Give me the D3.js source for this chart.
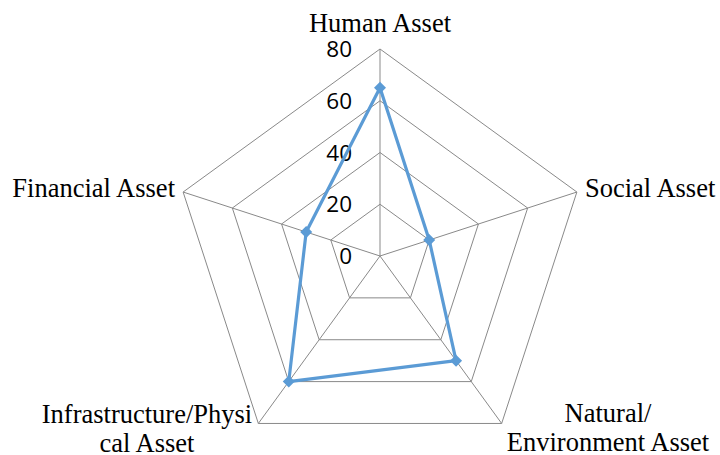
<!DOCTYPE html>
<html><head><meta charset="utf-8">
<script src="https://cdnjs.cloudflare.com/ajax/libs/d3/7.8.5/d3.min.js"></script>
<style>html,body{margin:0;padding:0;background:#fff;}</style>
</head><body>
<svg id="chart" width="720" height="455"></svg>
<script>
const categories = ["Human Asset", "Social Asset", "Natural/\nEnvironment Asset", "Infrastructure/Physi\ncal Asset", "Financial Asset"];
const values = [65, 20, 50, 60, 30];
const tickValues = [0, 20, 40, 60, 80];

const svg = d3.select("#chart");
const cx = 380, cy = 256, R = 207;
const r = d3.scaleLinear().domain([0, 80]).range([0, R]);
const n = categories.length;
const ang = i => i * 2 * Math.PI / n;
const pt = (i, v) => [cx + r(v) * Math.sin(ang(i)), cy - r(v) * Math.cos(ang(i))];

const g = svg.append("g");
// grid polygons
tickValues.slice(1).forEach(t => {
  g.append("polygon")
    .attr("points", d3.range(n).map(i => pt(i, t).join(",")).join(" "))
    .attr("fill", "none").attr("stroke", "#898989").attr("stroke-width", 1);
});
// spokes
d3.range(n).forEach(i => {
  const p = pt(i, 80);
  g.append("line").attr("x1", cx).attr("y1", cy).attr("x2", p[0]).attr("y2", p[1])
    .attr("stroke", "#898989").attr("stroke-width", 1);
});
// tick labels
tickValues.forEach(t => {
  g.append("text").attr("x", cx - 28).attr("y", cy - r(t)).attr("dy", "0.36em")
    .attr("text-anchor", "end").attr("font-family", "'Open Sans', 'Liberation Sans', sans-serif")
    .attr("font-size", 22.5).attr("fill", "#000").text(t);
});
// data line
const line = d3.line().curve(d3.curveLinearClosed);
g.append("path").attr("d", line(values.map((v, i) => pt(i, v))))
  .attr("fill", "none").attr("stroke", "#5B9BD5").attr("stroke-width", 3.2).attr("stroke-linejoin", "round");
values.forEach((v, i) => {
  const p = pt(i, v);
  g.append("path").attr("d", d3.symbol(d3.symbolSquare, 72)())
    .attr("transform", `translate(${p[0]},${p[1]}) rotate(45)`)
    .attr("fill", "#5B9BD5");
});
// category labels
const labelPos = [
  {x: 380, y: 32, anchor: "middle"},
  {x: 585, y: 197, anchor: "start"},
  {x: 608, y: 422, anchor: "middle"},
  {x: 147, y: 423, anchor: "middle"},
  {x: 175, y: 197, anchor: "end"}
];
categories.forEach((c, i) => {
  const lp = labelPos[i];
  const t = g.append("text").attr("x", lp.x).attr("y", lp.y).attr("text-anchor", lp.anchor)
    .attr("font-family", "'Liberation Serif', 'Times New Roman', serif").attr("font-size", 26.5).attr("fill", "#000");
  c.split("\n").forEach((s, k) => {
    t.append("tspan").attr("x", lp.x).attr("dy", k === 0 ? 0 : 28.5).text(s);
  });
});
</script>
</body></html>
